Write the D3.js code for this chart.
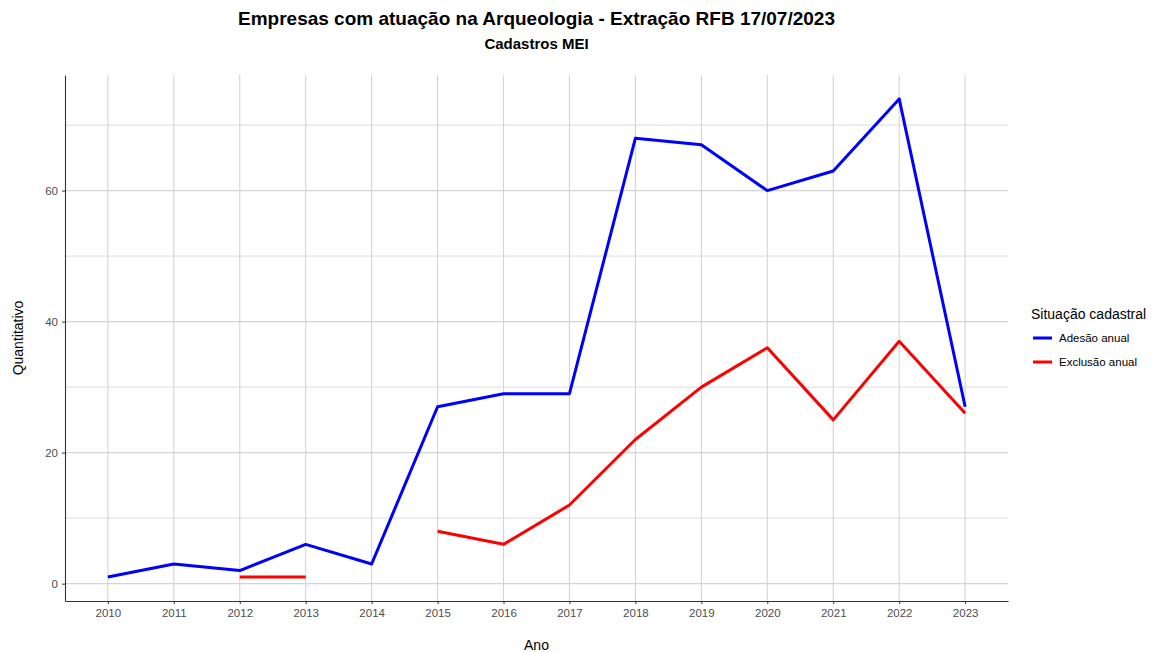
<!DOCTYPE html>
<html>
<head>
<meta charset="utf-8">
<script src="https://cdn.jsdelivr.net/npm/d3@7"></script>
<style>
  body { margin: 0; background: #fff; }
  text { font-family: Arial, "Liberation Sans", sans-serif; }
</style>
</head>
<body>
<script>
const svgW = 1153;
const svgH = 652;

// dados
const anos = [2010, 2011, 2012, 2013, 2014, 2015, 2016, 2017, 2018, 2019, 2020, 2021, 2022, 2023];
const adesao = [1, 3, 2, 6, 3, 27, 29, 29, 68, 67, 60, 63, 74, 27];
const exclusao = [null, null, 1, 1, null, 8, 6, 12, 22, 30, 36, 25, 37, 26];
const yTicks = [0, 20, 40, 60];
const yMinor = [10, 30, 50, 70];
const series = [
  { nome: 'Adesão anual', cor: '#0000ff', valores: adesao },
  { nome: 'Exclusão anual', cor: '#ff0000', valores: exclusao }
];

const margin = { top: 75, right: 145, bottom: 51, left: 65 };
const w = svgW - margin.left - margin.right;
const h = svgH - margin.top - margin.bottom;

const svg = d3.select('body')
              .append('svg')
              .attr('width', svgW)
              .attr('height', svgH);

const g = svg.append('g')
             .attr('transform', `translate(${margin.left}, ${margin.top})`);

// expansão de 5% como no ggplot
const xSpan = d3.max(anos) - d3.min(anos);
const x = d3.scaleLinear()
            .domain([d3.min(anos) - xSpan * 0.05, d3.max(anos) + xSpan * 0.05])
            .range([0, w]);
const allV = adesao.concat(exclusao.filter(v => v != null));
const yLo = d3.min(allV), yHi = d3.max(allV);
const ySpan = yHi - yLo;
const y = d3.scaleLinear()
            .domain([yLo - ySpan * 0.05, yHi + ySpan * 0.05])
            .range([h, 0]);

// grade
g.append('g').selectAll('line')
  .data(yMinor)
  .enter().append('line')
  .attr('x1', 0).attr('x2', w)
  .attr('y1', d => y(d)).attr('y2', d => y(d))
  .attr('stroke', '#dcdcdc').attr('stroke-width', 1);
g.append('g').selectAll('line')
  .data(yTicks)
  .enter().append('line')
  .attr('x1', 0).attr('x2', w)
  .attr('y1', d => y(d)).attr('y2', d => y(d))
  .attr('stroke', '#d4d4d4').attr('stroke-width', 1.1);
g.append('g').selectAll('line')
  .data(anos)
  .enter().append('line')
  .attr('x1', d => x(d)).attr('x2', d => x(d))
  .attr('y1', 0).attr('y2', h)
  .attr('stroke', '#d4d4d4').attr('stroke-width', 1.1);

// eixos
const xAxis = g.append('g')
               .attr('transform', `translate(0, ${h})`)
               .call(d3.axisBottom(x).tickValues(anos).tickFormat(d3.format('d')).tickSize(3).tickPadding(5).tickSizeOuter(0));
const yAxis = g.append('g')
               .call(d3.axisLeft(y).tickValues(yTicks).tickSize(3).tickPadding(4).tickSizeOuter(0));
[xAxis, yAxis].forEach(a => {
  a.select('.domain').attr('stroke', '#333').attr('stroke-width', 1.1);
  a.selectAll('.tick line').attr('stroke', '#333');
  a.selectAll('.tick text').attr('fill', '#4d4d4d').style('font-size', '11.5px').style('font-family', 'Arial, "Liberation Sans", sans-serif');
});

// linhas
const line = d3.line()
               .defined(d => d.v != null)
               .x(d => x(d.ano))
               .y(d => y(d.v));

g.selectAll('.serie')
  .data(series)
  .enter().append('path')
  .attr('class', 'serie')
  .attr('d', s => line(anos.map((a, i) => ({ ano: a, v: s.valores[i] }))))
  .attr('fill', 'none')
  .attr('stroke', s => s.cor)
  .attr('stroke-width', 3)
  .attr('stroke-linejoin', 'round');

// títulos
svg.append('text')
   .attr('x', margin.left + w / 2).attr('y', 25)
   .attr('text-anchor', 'middle')
   .style('font-size', '19px').style('font-weight', 'bold')
   .text('Empresas com atuação na Arqueologia - Extração RFB 17/07/2023');
svg.append('text')
   .attr('x', margin.left + w / 2).attr('y', 49)
   .attr('text-anchor', 'middle')
   .style('font-size', '15px').style('font-weight', 'bold')
   .text('Cadastros MEI');
svg.append('text')
   .attr('x', margin.left + w / 2).attr('y', 650)
   .attr('text-anchor', 'middle')
   .style('font-size', '14px').attr('fill', '#000')
   .text('Ano');
svg.append('text')
   .attr('transform', `translate(23, ${margin.top + h / 2}) rotate(-90)`)
   .attr('text-anchor', 'middle')
   .style('font-size', '14px')
   .text('Quantitativo');

// legenda
const leg = svg.append('g').attr('transform', 'translate(1031, 0)');
leg.append('text')
   .attr('x', 0).attr('y', 319)
   .style('font-size', '14px')
   .text('Situação cadastral');
const li = leg.selectAll('.item')
              .data(series)
              .enter().append('g')
              .attr('transform', (d, i) => `translate(0, ${338 + i * 24})`);
li.append('line')
  .attr('x1', 2).attr('x2', 21)
  .attr('y1', 0).attr('y2', 0)
  .attr('stroke', d => d.cor).attr('stroke-width', 3);
li.append('text')
  .attr('x', 28).attr('y', 4)
  .style('font-size', '11.5px')
  .text(d => d.nome);
</script>
</body>
</html>
